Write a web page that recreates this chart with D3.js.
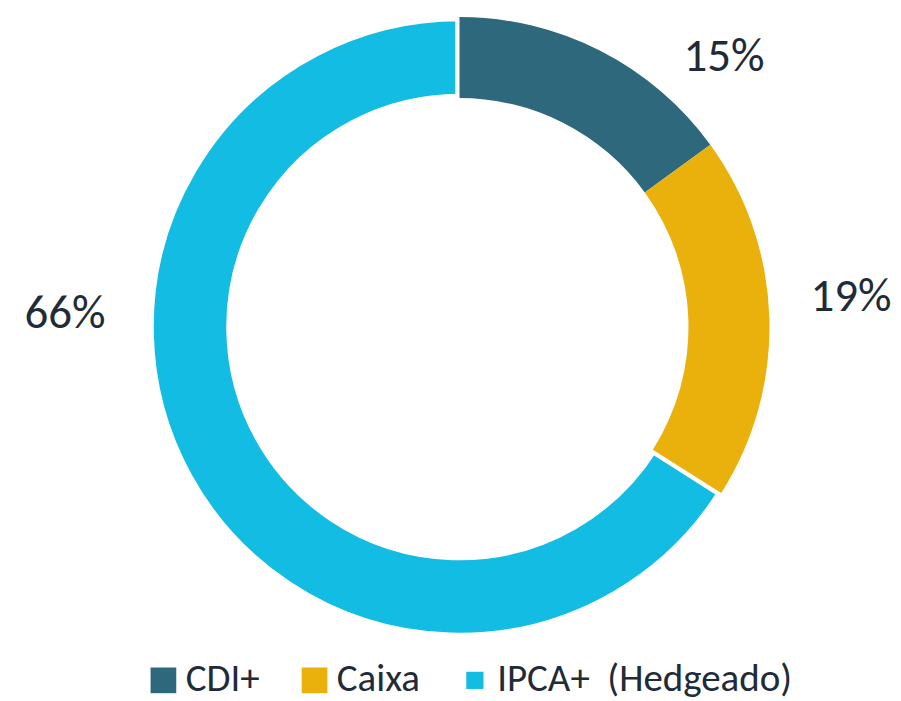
<!DOCTYPE html>
<html>
<head>
<meta charset="utf-8">
<script src="https://cdn.jsdelivr.net/npm/d3@7"></script>
<style>
  html, body { margin: 0; padding: 0; background: #ffffff; }
  svg { display: block; }
  text { font-family: Carlito, Calibri, "Open Sans", Lato, sans-serif; fill: #212B38; }
</style>
</head>
<body>
<svg id="chart" width="901" height="701"></svg>
<script>
// ---- data ----
const categories = ["CDI+", "Caixa", "IPCA+  (Hedgeado)"];
const values = [15, 19, 66];
const colors = ["#2E687D", "#EAB00C", "#13BCE2"];
const labelTexts = ["15%", "19%", "66%"];
const outlined = [false, false, true];

// ---- layout ----
const cx = 459.5, cy = 327;
const outerR = 310, innerR = 229;
// label anchor points (text centres / baselines)
const labelPos = [[724, 71], [851, 311], [65, 328]];

const svg = d3.select("#chart");
const g = svg.append("g").attr("transform", `translate(${cx},${cy})`);

const pie = d3.pie().sort(null).value(d => d.v).startAngle(0).endAngle(2 * Math.PI);
const arcs = pie(values.map((v, i) => ({ v, i })));
const arc = d3.arc().innerRadius(innerR).outerRadius(outerR);

// draw outlined slices first so neighbours sit on top of their white border
const order = arcs.slice().sort((a, b) => (outlined[b.data.i] ? 1 : 0) - (outlined[a.data.i] ? 1 : 0));
g.selectAll("path.slice")
  .data(order)
  .join("path")
  .attr("class", "slice")
  .attr("d", arc)
  .attr("fill", d => colors[d.data.i])
  .attr("stroke", d => outlined[d.data.i] ? "#ffffff" : "none")
  .attr("stroke-width", d => outlined[d.data.i] ? 8.5 : 0)
  .attr("stroke-linejoin", "miter");

// value labels (font size fitted so "15%" is ~80px wide)
const lbl = svg.selectAll("text.lbl")
  .data(labelTexts)
  .join("text")
  .attr("class", "lbl")
  .attr("x", (d, i) => labelPos[i][0])
  .attr("y", (d, i) => labelPos[i][1])
  .attr("text-anchor", "middle")
  .attr("font-size", 40)
  .text(d => d);
const w0 = lbl.node().getComputedTextLength();
lbl.attr("font-size", 40 * 81 / w0);

// legend
const legend = svg.append("g");
const sq = 25.7, gapText = 9.5, gapItem = 42;
const items = legend.selectAll("g.item")
  .data(categories)
  .join("g")
  .attr("class", "item");
items.append("rect")
  .attr("width", sq).attr("height", sq)
  .attr("y", 667.5)
  .attr("fill", (d, i) => colors[i])
  .attr("stroke", (d, i) => outlined[i] ? "#ffffff" : "none")
  .attr("stroke-width", (d, i) => outlined[i] ? 8.5 : 0);
const ltxt = items.append("text")
  .attr("y", 690.8)
  .attr("font-size", 34)
  .attr("xml:space", "preserve")
  .style("white-space", "pre")
  .text(d => d);
let tot = 0;
ltxt.each(function () { tot += this.getComputedTextLength(); });
ltxt.attr("font-size", 34 * 452 / tot);

let x = 0;
const starts = [];
items.each(function () {
  starts.push(x);
  const tw = d3.select(this).select("text").node().getComputedTextLength();
  x += sq + gapText + tw + gapItem;
});
const totalW = x - gapItem;
const legendX = 471.3 - totalW / 2;
items.each(function (d, i) {
  const it = d3.select(this);
  it.select("rect").attr("x", legendX + starts[i]);
  it.select("text").attr("x", legendX + starts[i] + sq + gapText);
});
</script>
</body>
</html>
